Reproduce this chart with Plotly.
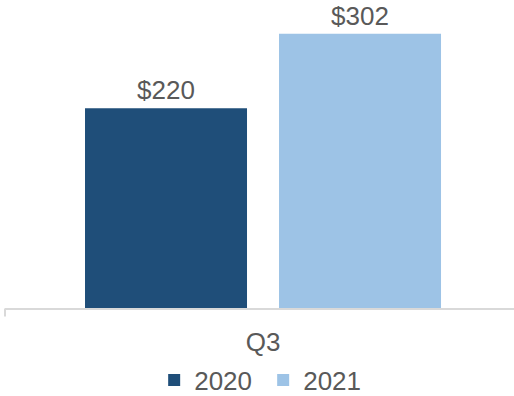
import plotly.graph_objects as go

categories = ["Q3"]
years = ["2020", "2021"]
values_2020 = [220]
values_2021 = [302]
colors = ["#1F4E79", "#9DC3E6"]

text_color = "#595959"
font_family = "Liberation Sans, Arial, sans-serif"

fig = go.Figure()
for name, vals, col in zip(years, [values_2020, values_2021], colors):
    fig.add_trace(go.Bar(
        x=categories,
        y=vals,
        name=name,
        marker=dict(color=col, line=dict(width=0)),
        text=[f"${v}" for v in vals],
        textposition="outside",
        cliponaxis=False,
        textfont=dict(size=26, color=text_color, family=font_family),
    ))

# small tick at the left end of the category axis
fig.add_shape(type="line", xref="paper", yref="paper",
              x0=0, x1=0, y0=0, y1=-8 / 310,
              line=dict(color="#D9D9D9", width=2))

fig.update_layout(
    width=514, height=396,
    margin=dict(l=5, r=0, t=0, b=86),
    paper_bgcolor="white", plot_bgcolor="white",
    barmode="group",
    bargap=0.227,
    bargroupgap=0.165,
    showlegend=True,
    legend=dict(
        orientation="h",
        xref="container", yref="container",
        x=0.512, y=0.040, xanchor="center", yanchor="middle",
        font=dict(size=26, color=text_color, family=font_family),
        bgcolor="rgba(0,0,0,0)",
        entrywidth=64,
        itemclick=False,
    ),
    xaxis=dict(
        type="category",
        range=[-0.514, 0.5],
        showline=True, linecolor="#D9D9D9", linewidth=2,
        ticks="", showgrid=False,
        ticklabelstandoff=9,
        tickfont=dict(size=26, color=text_color, family=font_family),
    ),
    yaxis=dict(
        range=[0, 339],
        visible=False,
        showgrid=False, zeroline=False,
    ),
)

fig.write_html("out.html")
